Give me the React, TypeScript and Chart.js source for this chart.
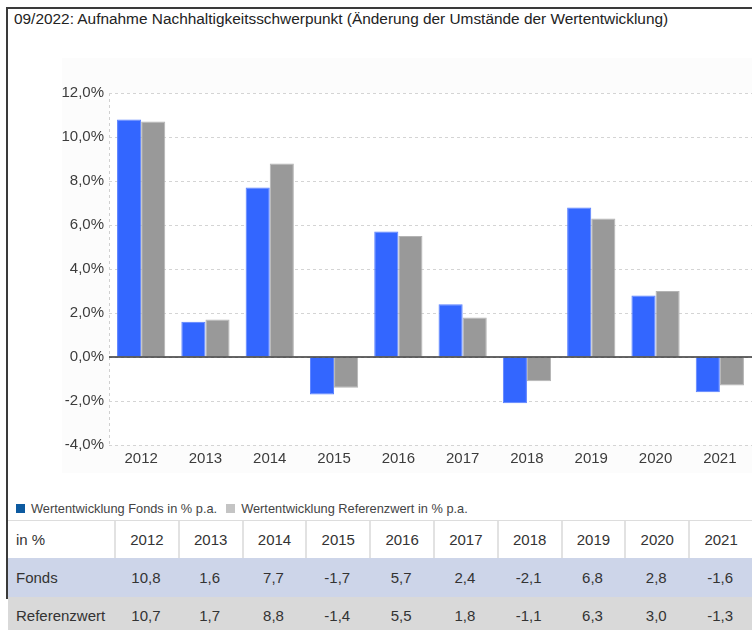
import React, { useEffect, useRef } from "react";
import { Chart, registerables } from "chart.js";

Chart.register(...registerables);

const TITLE = "09/2022: Aufnahme Nachhaltigkeitsschwerpunkt (Änderung der Umstände der Wertentwicklung)";
const YEARS = ["2012", "2013", "2014", "2015", "2016", "2017", "2018", "2019", "2020", "2021"];
const FONDS = [10.8, 1.6, 7.7, -1.7, 5.7, 2.4, -2.1, 6.8, 2.8, -1.6];
const REFERENZ = [10.7, 1.7, 8.8, -1.4, 5.5, 1.8, -1.1, 6.3, 3.0, -1.3];
const FONDS_LABEL = "Wertentwicklung Fonds in % p.a.";
const REF_LABEL = "Wertentwicklung Referenzwert in % p.a.";
const Y_MIN = -4;
const Y_MAX = 12;
const Y_STEP = 2;

const FONT = '"Liberation Sans", Arial, Helvetica, sans-serif';
const fmt = (v: number) => v.toFixed(1).replace(".", ",");

export default function App() {
  const ref = useRef<HTMLCanvasElement | null>(null);

  useEffect(() => {
    if (!ref.current) return;
    const bgPlugin = {
      id: "bgPlugin",
      beforeDraw(chart: any) {
        const { ctx, chartArea, width, height } = chart;
        ctx.save();
        ctx.fillStyle = "#fcfcfc";
        ctx.fillRect(0, 0, width, height);
        ctx.fillStyle = "#ffffff";
        ctx.fillRect(chartArea.left, chartArea.top, chartArea.right - chartArea.left, chartArea.bottom - chartArea.top);
        ctx.restore();
      },
      afterDatasetsDraw(chart: any) {
        const { ctx, chartArea } = chart;
        const y = chart.scales.y.getPixelForValue(0);
        ctx.save();
        ctx.strokeStyle = "#333333";
        ctx.lineWidth = 1.5;
        ctx.beginPath();
        ctx.moveTo(chartArea.left, y);
        ctx.lineTo(chartArea.right, y);
        ctx.stroke();
        ctx.restore();
      },
    };

    const chart = new Chart(ref.current, {
      type: "bar",
      data: {
        labels: YEARS,
        datasets: [
          {
            label: FONDS_LABEL,
            data: FONDS,
            backgroundColor: "#3366ff",
            borderColor: "#5a80ff",
            borderWidth: 1,
            categoryPercentage: 0.75,
            barPercentage: 1,
          },
          {
            label: REF_LABEL,
            data: REFERENZ,
            backgroundColor: "#999999",
            borderColor: "#b4b4b4",
            borderWidth: 1,
            categoryPercentage: 0.75,
            barPercentage: 1,
          },
        ],
      },
      options: {
        animation: false,
        responsive: false,
        maintainAspectRatio: false,
        layout: { padding: { top: 35, right: 0, bottom: 0, left: 0 } },
        plugins: {
          legend: { display: false },
          tooltip: { enabled: false },
          title: { display: false },
        },
        scales: {
          x: {
            grid: {
              color: (c: any) => (c.index === 0 ? "#d0d0d0" : "rgba(0,0,0,0)"),
              drawTicks: false,
              offset: true,
            },
            border: { display: false, dash: [3, 3] },
            ticks: { font: { family: FONT, size: 15 }, color: "#3c3c3c", padding: 5 },
            afterFit: (s: any) => {
              s.height = 28;
            },
          },
          y: {
            min: Y_MIN,
            max: Y_MAX,
            grid: { color: "#d4d4d4", drawTicks: false },
            border: { display: false, dash: [3, 3] },
            ticks: {
              stepSize: Y_STEP,
              font: { family: FONT, size: 15 },
              color: "#3c3c3c",
              padding: 5,
              callback: (v: any) => fmt(Number(v)) + "%",
            },
            afterFit: (s: any) => {
              s.width = 47;
            },
          },
        },
      },
      plugins: [bgPlugin],
    });
    return () => chart.destroy();
  }, []);

  const colW = (752 - 114) / 10;
  const cell: React.CSSProperties = {
    width: colW,
    textAlign: "center",
    boxSizing: "border-box",
    flex: "none",
  };
  const firstCell: React.CSSProperties = {
    width: 106,
    paddingLeft: 8,
    boxSizing: "border-box",
    flex: "none",
  };
  const row = (h: number, bg: string): React.CSSProperties => ({
    display: "flex",
    alignItems: "center",
    height: h,
    background: bg,
  });

  return (
    <div
      style={{
        position: "fixed",
        left: 0,
        top: 0,
        width: 752,
        height: 630,
        overflow: "hidden",
        background: "#ffffff",
        fontFamily: FONT,
        color: "#333333",
      }}
    >
      <div
        style={{
          position: "absolute",
          left: 6,
          top: 7,
          width: 800,
          height: 590,
          borderLeft: "2px solid #3a3a3a",
          borderTop: "2px solid #3a3a3a",
        }}
      />
      <div style={{ position: "absolute", left: 14, top: 10, fontSize: 15.4, lineHeight: "18px", color: "#222", whiteSpace: "nowrap" }}>
        {TITLE}
      </div>
      <canvas ref={ref} width={690} height={415} style={{ position: "absolute", left: 62, top: 58, width: 690, height: 415 }} />
      <div
        style={{
          position: "absolute",
          left: 16,
          top: 501,
          fontSize: 12.8,
          lineHeight: "15px",
          color: "#444",
          display: "flex",
          alignItems: "center",
          whiteSpace: "nowrap",
        }}
      >
        <span style={{ display: "inline-block", width: 9, height: 9, background: "#0d5aa0", marginRight: 6 }} />
        <span>{FONDS_LABEL}</span>
        <span style={{ display: "inline-block", width: 9, height: 9, background: "#c4c4c4", marginLeft: 9, marginRight: 6 }} />
        <span>{REF_LABEL}</span>
      </div>
      <div style={{ position: "absolute", left: 8, top: 520, width: 744, fontSize: 15, color: "#333" }}>
        <div style={{ ...row(38, "#ffffff"), borderTop: "1px solid #dddddd", boxSizing: "border-box" }}>
          <div style={firstCell}>in %</div>
          {YEARS.map((y) => (
            <div key={y} style={{ ...cell, borderLeft: "2px solid #e2e2e2", height: "100%", display: "flex", alignItems: "center", justifyContent: "center" }}>
              {y}
            </div>
          ))}
        </div>
        <div style={row(39, "#cdd5e9")}>
          <div style={firstCell}>Fonds</div>
          {FONDS.map((v, i) => (
            <div key={i} style={cell}>
              {fmt(v)}
            </div>
          ))}
        </div>
        <div style={row(36, "#d9d9d9")}>
          <div style={firstCell}>Referenzwert</div>
          {REFERENZ.map((v, i) => (
            <div key={i} style={cell}>
              {fmt(v)}
            </div>
          ))}
        </div>
      </div>
    </div>
  );
}
